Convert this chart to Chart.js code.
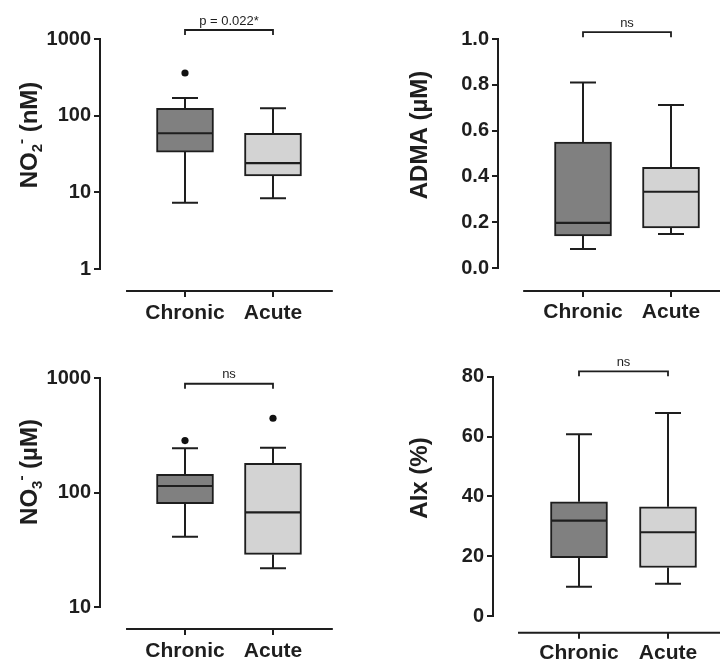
<!DOCTYPE html>
<html>
<head>
<meta charset="utf-8">
<script src="https://cdn.jsdelivr.net/npm/chart.js@4.4.1/dist/chart.umd.min.js"></script>
<style>
  html, body { margin: 0; padding: 0; background: #fff; }
  #wrap { position: relative; width: 720px; height: 661px; background: #fff; overflow: hidden; }
  canvas { position: absolute; }
</style>
</head>
<body>
<div id="wrap">
  <canvas id="c0" width="360" height="330" style="left:0;top:0"></canvas>
  <canvas id="c1" width="360" height="330" style="left:360px;top:0"></canvas>
  <canvas id="c2" width="360" height="331" style="left:0;top:330px"></canvas>
  <canvas id="c3" width="360" height="331" style="left:360px;top:330px"></canvas>
</div>
<script>
// ---------------- DATA ----------------
const categories = ['Chronic', 'Acute'];

// NO2- (nM)
const nitriteMin = [7.3, 8.4];
const nitriteQ1 = [33.5, 16.4];
const nitriteMedian = [59, 24];
const nitriteQ3 = [125, 59];
const nitriteMax = [170, 125];
const nitriteOutliers = [[360], []];

// ADMA (µM)
const admaMin = [0.083, 0.148];
const admaQ1 = [0.14, 0.175];
const admaMedian = [0.197, 0.333];
const admaQ3 = [0.55, 0.44];
const admaMax = [0.81, 0.712];
const admaOutliers = [[], []];

// NO3- (µM)
const nitrateMin = [41, 21.8];
const nitrateQ1 = [80, 28.8];
const nitrateMedian = [114, 67];
const nitrateQ3 = [144, 180];
const nitrateMax = [243, 246];
const nitrateOutliers = [[284], [445]];

// AIx (%)
const aixMin = [9.8, 10.8];
const aixQ1 = [19.5, 16.2];
const aixMedian = [31.9, 28];
const aixQ3 = [38.2, 36.5];
const aixMax = [60.8, 67.9];
const aixOutliers = [[], []];

// Tick labels
const yTicksNitrite = [1, 10, 100, 1000];
const yTicksAdma = [0, 0.2, 0.4, 0.6, 0.8, 1.0];
const yTicksNitrate = [10, 100, 1000];
const yTicksAix = [0, 20, 40, 60, 80];

// Significance labels and bracket levels (in axis units)
const sigLabels = ['p = 0.022*', 'ns', 'ns', 'ns'];
const bracketLevels = [1310, 1.03, 891, 81.8];

// Axis titles (segments: text, style)
const titleNitrite = [['NO', ''], ['2', 'sub'], ['-', 'sup'], [' (nM)', '']];
const titleAdma = [['ADMA (\u00B5M)', '']];
const titleNitrate = [['NO', ''], ['3', 'sub'], ['-', 'sup'], [' (\u00B5M)', '']];
const titleAix = [['AIx (%)', '']];

// ---------------- STYLE / LAYOUT ----------------
const FONT = '"Liberation Sans", Arial, Helvetica, sans-serif';
const INK = '#1e1e1e';
const fills = ['#808080', '#d3d3d3'];

const panels = [
  { id: 'c0', h: 330, stats: [nitriteMin, nitriteQ1, nitriteMedian, nitriteQ3, nitriteMax], outliers: nitriteOutliers,
    yType: 'logarithmic', yMin: 1, yMax: 1000, yTicks: yTicksNitrite, fmt: v => String(v),
    title: titleNitrite, sig: sigLabels[0], bracket: bracketLevels[0],
    L: { top: 39, bottom: 269, axisX: 100, xMin: -0.966, xMax: 1.932, lineY: 291, lineFrom: -0.67, lineTo: 1.68, labelY: 312, titleX: 28, titleY: 135 } },
  { id: 'c1', h: 330, stats: [admaMin, admaQ1, admaMedian, admaQ3, admaMax], outliers: admaOutliers,
    yType: 'linear', yMin: 0, yMax: 1.0, yTicks: yTicksAdma, fmt: v => v.toFixed(1),
    title: titleAdma, sig: sigLabels[1], bracket: bracketLevels[1],
    L: { top: 39, bottom: 268, axisX: 138, xMin: -0.966, xMax: 1.5, lineY: 291, lineFrom: -0.68, lineTo: 1.6, labelY: 311, titleX: 58, titleY: 135 } },
  { id: 'c2', h: 331, stats: [nitrateMin, nitrateQ1, nitrateMedian, nitrateQ3, nitrateMax], outliers: nitrateOutliers,
    yType: 'logarithmic', yMin: 10, yMax: 1000, yTicks: yTicksNitrate, fmt: v => String(v),
    title: titleNitrate, sig: sigLabels[2], bracket: bracketLevels[2],
    L: { top: 48, bottom: 277, axisX: 100, xMin: -0.966, xMax: 1.932, lineY: 299, lineFrom: -0.67, lineTo: 1.68, labelY: 320, titleX: 28, titleY: 142 } },
  { id: 'c3', h: 331, stats: [aixMin, aixQ1, aixMedian, aixQ3, aixMax], outliers: aixOutliers,
    yType: 'linear', yMin: 0, yMax: 80, yTicks: yTicksAix, fmt: v => String(v),
    title: titleAix, sig: sigLabels[3], bracket: bracketLevels[3],
    L: { top: 46.7, bottom: 286, axisX: 133, xMin: -0.966, xMax: 1.528, lineY: 302.7, lineFrom: -0.685, lineTo: 1.6, labelY: 322, titleX: 58, titleY: 148 } }
];

const X_FONT = 21, X_LH = 1.2;
const BOX_W = 57, CAP_HALF = 13;

function makePlugin(p) {
  const [mn, q1, md, q3, mx] = p.stats;
  return {
    id: 'boxExtras_' + p.id,
    beforeDatasetsDraw(chart) {
      const xs = chart.scales.x, ys = chart.scales.y, ctx = chart.ctx;
      ctx.save();
      ctx.strokeStyle = INK; ctx.lineWidth = 2; ctx.lineCap = 'butt';
      categories.forEach((c, i) => {
        const x = Math.round(xs.getPixelForValue(i));
        const yTop = ys.getPixelForValue(mx[i]), yQ3 = ys.getPixelForValue(q3[i]);
        const yBot = ys.getPixelForValue(mn[i]), yQ1 = ys.getPixelForValue(q1[i]);
        ctx.beginPath();
        ctx.moveTo(x, yQ3); ctx.lineTo(x, yTop);
        ctx.moveTo(x - CAP_HALF, yTop); ctx.lineTo(x + CAP_HALF, yTop);
        ctx.moveTo(x, yQ1); ctx.lineTo(x, yBot);
        ctx.moveTo(x - CAP_HALF, yBot); ctx.lineTo(x + CAP_HALF, yBot);
        ctx.stroke();
      });
      ctx.restore();
    },
    afterDatasetsDraw(chart) {
      const ys = chart.scales.y, ctx = chart.ctx;
      ctx.save();
      ctx.strokeStyle = INK; ctx.lineWidth = 2.2;
      const meta = chart.getDatasetMeta(0);
      categories.forEach((c, i) => {
        const bar = meta.data[i];
        const half = bar.width / 2;
        const y = ys.getPixelForValue(md[i]);
        ctx.beginPath();
        ctx.moveTo(bar.x - half + 1, y); ctx.lineTo(bar.x + half - 1, y);
        ctx.stroke();
      });
      ctx.restore();
    },
    afterDraw(chart) {
      const xs = chart.scales.x, ys = chart.scales.y, ctx = chart.ctx, L = p.L;
      ctx.save();
      ctx.strokeStyle = INK; ctx.lineWidth = 2;
      // detached x axis line with ticks
      ctx.beginPath();
      ctx.moveTo(xs.getPixelForValue(L.lineFrom), L.lineY);
      ctx.lineTo(xs.getPixelForValue(L.lineTo), L.lineY);
      categories.forEach((c, i) => {
        const x = Math.round(xs.getPixelForValue(i));
        ctx.moveTo(x, L.lineY); ctx.lineTo(x, L.lineY + 6);
      });
      ctx.stroke();
      // significance bracket
      const by = ys.getPixelForValue(p.bracket);
      const x0 = Math.round(xs.getPixelForValue(0)), x1 = Math.round(xs.getPixelForValue(1));
      ctx.lineWidth = 1.8;
      ctx.beginPath();
      ctx.moveTo(x0, by + 5); ctx.lineTo(x0, by); ctx.lineTo(x1, by); ctx.lineTo(x1, by + 5);
      ctx.stroke();
      ctx.fillStyle = INK;
      ctx.font = '13px ' + FONT;
      ctx.textAlign = 'center'; ctx.textBaseline = 'middle';
      ctx.fillText(p.sig, (x0 + x1) / 2, by - 9);
      // rotated y title with sub/superscripts
      const mainF = 'bold 24px ' + FONT, smallF = 'bold 15px ' + FONT;
      let total = 0;
      p.title.forEach(([t, s]) => { ctx.font = s ? smallF : mainF; total += ctx.measureText(t).width; });
      ctx.translate(L.titleX, L.titleY);
      ctx.rotate(-Math.PI / 2);
      ctx.textAlign = 'left'; ctx.textBaseline = 'alphabetic';
      let cx = -total / 2;
      const base = 8.6;
      p.title.forEach(([t, s]) => {
        ctx.font = s ? smallF : mainF;
        const dy = s === 'sub' ? 5 : (s === 'sup' ? -11 : 0);
        ctx.fillText(t, cx, base + dy);
        cx += ctx.measureText(t).width;
      });
      ctx.restore();
    }
  };
}

panels.forEach(p => {
  const L = p.L;
  const [mn, q1, md, q3, mx] = p.stats;
  const boxData = categories.map((c, i) => ({ x: i, y: [q1[i], q3[i]] }));
  const outData = [];
  p.outliers.forEach((arr, i) => arr.forEach(v => outData.push({ x: i, y: v })));
  // vertical gap between chart bottom and label centre, realised with an invisible tick mark
  const xLabelGap = Math.max(1, L.labelY - L.bottom - 11);

  new Chart(document.getElementById(p.id), {
    type: 'bar',
    data: {
      datasets: [
        {
          type: 'bar',
          data: boxData,
          backgroundColor: fills,
          borderColor: INK,
          borderWidth: 2,
          borderSkipped: false,
          barThickness: BOX_W,
          order: 2
        },
        {
          type: 'scatter',
          data: outData,
          pointRadius: 3.6,
          pointBackgroundColor: '#111',
          pointBorderWidth: 0,
          order: 1
        }
      ]
    },
    options: {
      responsive: false,
      animation: false,
      devicePixelRatio: 1,
      events: [],
      layout: { padding: { left: 0, top: L.top, right: 5, bottom: 0 } },
      plugins: { legend: { display: false }, tooltip: { enabled: false }, title: { display: false } },
      scales: {
        x: {
          type: 'linear',
          min: L.xMin, max: L.xMax,
          offset: false,
          grid: { display: true, drawOnChartArea: false, drawTicks: true, tickLength: xLabelGap, color: 'rgba(0,0,0,0)' },
          border: { display: false },
          afterBuildTicks: s => { s.ticks = categories.map((c, i) => ({ value: i })); },
          afterFit: s => { s.height = p.h - L.bottom; },
          ticks: {
            autoSkip: false, maxRotation: 0, minRotation: 0,
            padding: 0,
            color: INK,
            font: { family: FONT, size: X_FONT, weight: 'bold', lineHeight: X_LH },
            callback: (v, i) => categories[i]
          }
        },
        y: {
          type: p.yType,
          min: p.yMin, max: p.yMax,
          afterBuildTicks: s => { s.ticks = p.yTicks.map(v => ({ value: v })); },
          afterFit: s => { s.width = L.axisX; },
          border: { display: true, color: INK, width: 2 },
          grid: { display: true, drawOnChartArea: false, drawTicks: true, tickLength: 6, color: INK, lineWidth: 2 },
          ticks: {
            autoSkip: false,
            padding: 3,
            color: INK,
            font: { family: FONT, size: 20, weight: 'bold' },
            callback: v => p.fmt(v)
          }
        }
      }
    },
    plugins: [makePlugin(p)]
  });
});
</script>
</body>
</html>
